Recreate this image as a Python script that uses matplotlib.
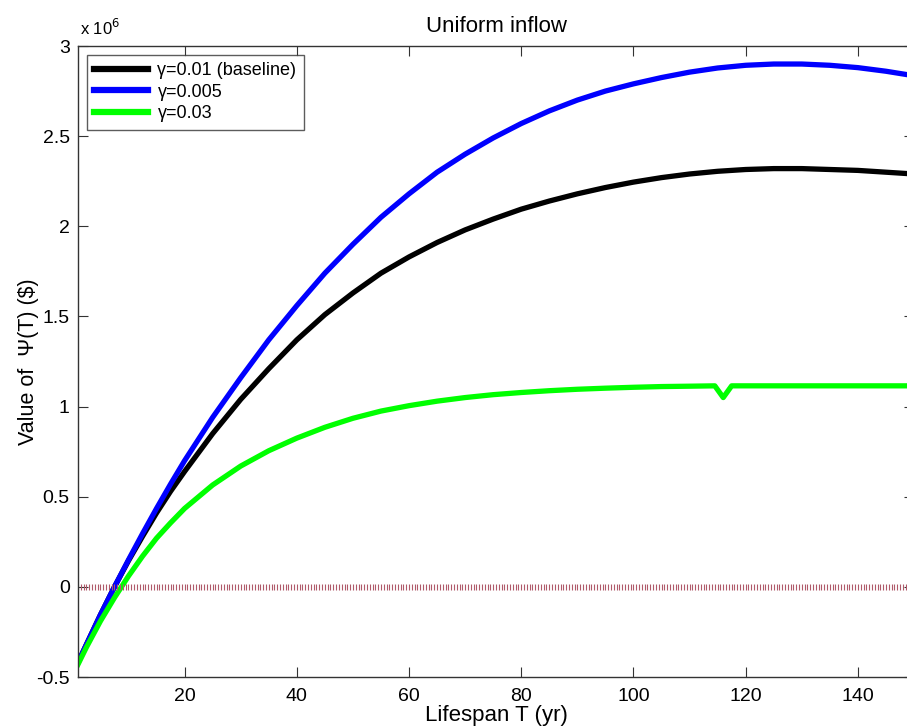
import numpy as np
import matplotlib
matplotlib.use("Agg")
import matplotlib.pyplot as plt

plt.rcParams['font.family'] = ['Liberation Sans', 'DejaVu Sans']

# Lifespan T (yr) and Psi(T) values (x 1e6 $)
T_black = [1, 2.5, 5, 7.5, 10, 12.5, 15, 17.5, 20, 25, 30, 35, 40, 45, 50, 55, 60, 65, 70,
           75, 80, 85, 90, 95, 100, 105, 110, 115, 120, 125, 130, 135, 140, 145, 150]
psi_black = [-0.42, -0.32, -0.155, 0.0, 0.145, 0.28, 0.41, 0.53, 0.64, 0.85, 1.04, 1.21,
             1.37, 1.51, 1.63, 1.74, 1.83, 1.91, 1.98, 2.04, 2.095, 2.14, 2.18, 2.215,
             2.245, 2.27, 2.29, 2.305, 2.315, 2.32, 2.32, 2.315, 2.31, 2.30, 2.29]

T_blue = [1, 2.5, 5, 7.5, 10, 12.5, 15, 17.5, 20, 25, 30, 35, 40, 45, 50, 55, 60, 65, 70,
          75, 80, 85, 90, 95, 100, 105, 110, 115, 120, 125, 130, 135, 140, 145, 150]
psi_blue = [-0.42, -0.32, -0.155, 0.0, 0.15, 0.295, 0.435, 0.57, 0.70, 0.94, 1.16, 1.37,
            1.56, 1.74, 1.90, 2.05, 2.18, 2.30, 2.40, 2.49, 2.57, 2.64, 2.70, 2.75,
            2.79, 2.825, 2.855, 2.878, 2.893, 2.90, 2.90, 2.893, 2.88, 2.86, 2.835]

T_green = [1, 2.5, 5, 7.5, 10, 12.5, 15, 17.5, 20, 25, 30, 35, 40, 45, 50, 55, 60, 65, 70,
           75, 80, 85, 90, 95, 100, 105, 110, 114.5, 116, 117.5, 120, 125, 130, 135, 140,
           145, 150]
psi_green = [-0.43, -0.335, -0.19, -0.06, 0.06, 0.17, 0.27, 0.355, 0.435, 0.565, 0.67,
             0.755, 0.825, 0.885, 0.935, 0.975, 1.005, 1.03, 1.05, 1.066, 1.078, 1.088,
             1.096, 1.102, 1.107, 1.111, 1.113, 1.115, 1.05, 1.115, 1.115, 1.115, 1.115,
             1.115, 1.115, 1.115, 1.115]

labels = ["\u03b3=0.01 (baseline)", "\u03b3=0.005", "\u03b3=0.03"]
colors = ["#000000", "#0000ff", "#00ff00"]
x_ticks = [20, 40, 60, 80, 100, 120, 140]
y_ticks = [-0.5, 0, 0.5, 1, 1.5, 2, 2.5, 3]
y_ticklabels = ["-0.5", "0", "0.5", "1", "1.5", "2", "2.5", "3"]

fig = plt.figure(figsize=(9.07, 7.26), dpi=100)
ax = fig.add_axes([78/907, 49/726, (914-78)/907, (677-46)/726])

lw = 3.8
ax.plot(T_black, psi_black, color=colors[0], lw=lw, label=labels[0])
ax.plot(T_blue, psi_blue, color=colors[1], lw=lw, label=labels[1])
ax.plot(T_green, psi_green, color=colors[2], lw=lw, label=labels[2])

# zero reference line
T_ref = np.arange(1, 150.01, 0.5)
ax.plot(T_ref, np.zeros_like(T_ref), linestyle='none', marker='|', markersize=5,
        markeredgewidth=0.8, color='#b05a6a')

ax.set_xlim(1, 150)
ax.set_ylim(-0.5, 3)
ax.set_xticks(x_ticks)
ax.set_yticks(y_ticks)
ax.set_yticklabels(y_ticklabels)
ax.tick_params(direction='in', length=7, width=0.8, top=True, right=True,
               labelsize=14, colors='#333333', labelcolor='black')
ax.tick_params(axis='x', pad=8)
ax.tick_params(axis='y', pad=6)
for s in ax.spines.values():
    s.set_color('#333333')
    s.set_linewidth(1.0)

ax.set_title("Uniform inflow", fontsize=16, pad=10)
ax.set_xlabel("Lifespan T (yr)", fontsize=16, labelpad=0)
ax.set_ylabel("Value of  \u03a8(T) ($)", fontsize=15.5, labelpad=-2)

ax.text(0.002, 1.012, r"x 10$^{6}$", transform=ax.transAxes, fontsize=12,
        ha='left', va='bottom')

leg = ax.legend(loc='upper left', fontsize=13, frameon=True, fancybox=False,
                edgecolor='#333333', borderaxespad=0.5, handlelength=3.0,
                labelspacing=0.25, borderpad=0.4, handletextpad=0.5)
leg.get_frame().set_linewidth(1.0)
for h in leg.get_lines():
    h.set_linewidth(4.5)

fig.savefig("out.png", dpi=100)
